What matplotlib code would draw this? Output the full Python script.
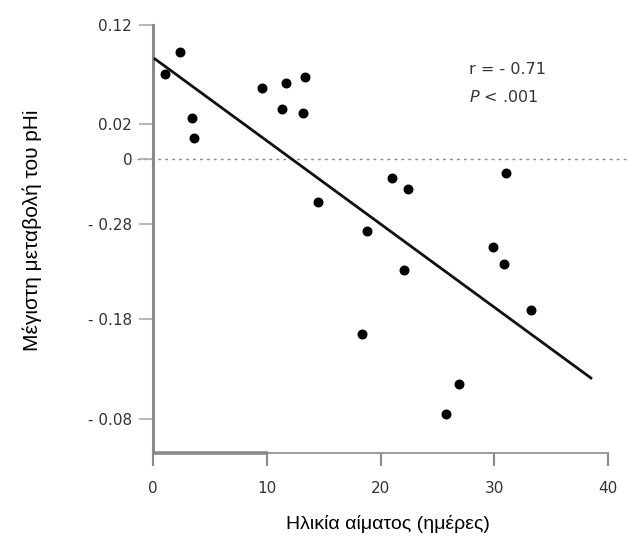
import matplotlib
matplotlib.use("Agg")
import matplotlib.pyplot as plt
import numpy as np

# Data
age_days = [1.05, 2.4, 3.45, 3.6, 9.6, 11.7, 13.35, 11.35, 13.2, 14.5, 18.8,
            21.0, 22.4, 18.4, 22.1, 25.8, 26.9, 29.9, 30.9, 31.0, 33.2]
max_change = [0.085, 0.107, 0.041, 0.021, 0.071, 0.076, 0.082, 0.050, 0.046,
              -0.043, -0.072, -0.019, -0.030, -0.175, -0.111, -0.255, -0.225,
              -0.088, -0.105, -0.014, -0.151]
fit_x = [0.18, 38.5]
fit_y = [0.100, -0.219]
x_ticks = [0, 10, 20, 30, 40]
x_tick_labels = ["0", "10", "20", "30", "40"]
y_ticks = [0.134, 0.035, 0.0, -0.065, -0.160, -0.260]
y_tick_labels = ["0.12", "0.02", "0", "- 0.28", "- 0.18", "- 0.08"]

plt.rcParams['font.family'] = ['Liberation Sans', 'DejaVu Sans']

fig = plt.figure(figsize=(6.29, 5.38), dpi=100)
ax = fig.add_axes([153/629, 1-453/538, (608-153)/629, (453-25)/538])
ax.set_xlim(0, 40)
ax.set_ylim(-0.294, 0.134)

gray = '#8a8a8a'
for s in ['top', 'right']:
    ax.spines[s].set_visible(False)
ax.spines['left'].set_color(gray)
ax.spines['left'].set_linewidth(2.2)
ax.spines['bottom'].set_color(gray)
ax.spines['bottom'].set_linewidth(1.2)

# thicker first segment of x-axis
ax.plot([0, 10.1], [-0.294, -0.294], color=gray, lw=2.6, clip_on=False,
        solid_capstyle='butt', zorder=3)

ax.set_xticks(x_ticks)
ax.set_xticklabels(x_tick_labels)
ax.set_yticks(y_ticks)
ax.set_yticklabels(y_tick_labels)
tick_font = 'DejaVu Sans'
ax.tick_params(axis='x', direction='out', length=9, width=1.5, color=gray,
               pad=11, labelsize=11, labelcolor='#333333')
ax.tick_params(axis='y', direction='out', length=10, width=1.2, color='#aaaaaa',
               pad=5, labelsize=11, labelcolor='#333333')
for lab in ax.get_xticklabels() + ax.get_yticklabels():
    lab.set_family(tick_font)

# zero reference line
ax.plot([-1.4, 42], [0, 0], color='#888888', lw=1.0, ls=(0, (2, 3)),
        clip_on=False, zorder=1)

ax.scatter(age_days, max_change, s=38, color='black', zorder=4, clip_on=False)
ax.plot(fit_x, fit_y, color='#111111', lw=2.0, zorder=3, clip_on=False)

ax.text(0.695, 0.895, "r = - 0.71", transform=ax.transAxes, fontsize=11.5,
        color='#333333', va='center', ha='left', family=tick_font)
ax.text(0.695, 0.832, r"$\it{P}$ < .001", transform=ax.transAxes, fontsize=11.5,
        color='#333333', va='center', ha='left', family=tick_font)

fig.text(388/629, 1-524/538, "Ηλικία αίματος (ημέρες)", fontsize=14,
         ha='center', va='center')
fig.text(32/629, 1-230/538, "Μέγιστη μεταβολή του pHi", fontsize=15,
         ha='center', va='center', rotation=90)

fig.savefig("out.png", dpi=100)
